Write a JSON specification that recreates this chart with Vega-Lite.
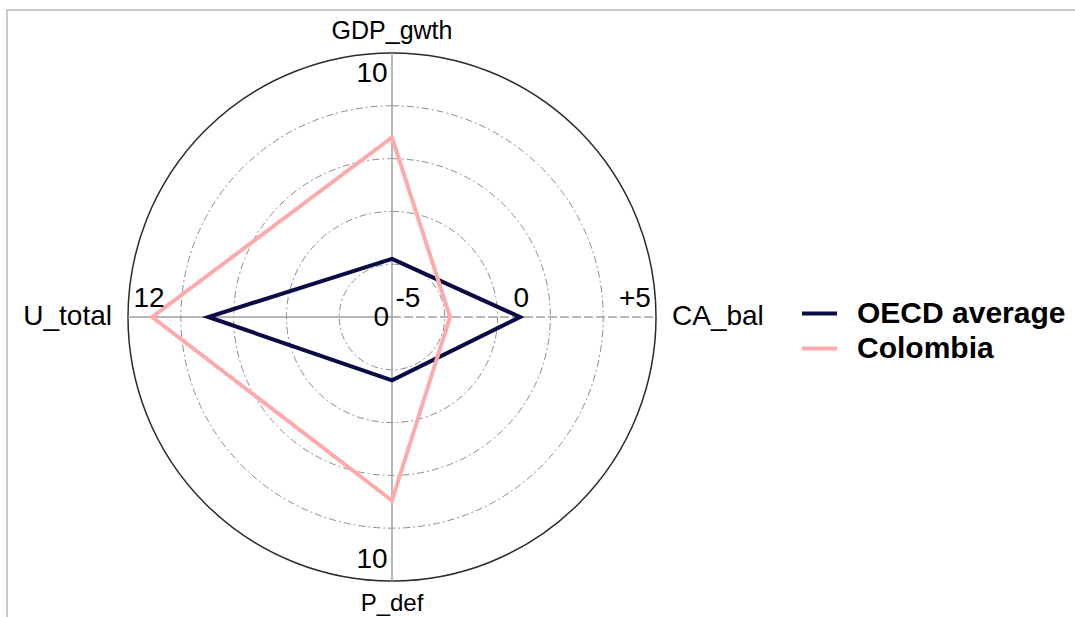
{
  "$schema": "https://vega.github.io/schema/vega-lite/v6.json",
  "width": 1078,
  "height": 617,
  "autosize": {"type": "none"},
  "padding": {"left": 7, "top": 10, "right": -10, "bottom": -10},
  "background": "white",
  "config": {
    "view": {"stroke": "#c8c8c8", "strokeWidth": 2},
    "font": "Liberation Sans",
    "text": {"font": "Liberation Sans", "color": "black"}
  },
  "datasets": {
    "values": [
      {"country": "OECD average", "indicator": "GDP_gwth", "value": 2.2},
      {"country": "OECD average", "indicator": "CA_bal", "value": -0.15},
      {"country": "OECD average", "indicator": "P_def", "value": 2.4},
      {"country": "OECD average", "indicator": "U_total", "value": 8.35},
      {"country": "Colombia", "indicator": "GDP_gwth", "value": 6.8},
      {"country": "Colombia", "indicator": "CA_bal", "value": -2.8},
      {"country": "Colombia", "indicator": "P_def", "value": 6.95},
      {"country": "Colombia", "indicator": "U_total", "value": 10.9}
    ],
    "axes": [
      {"indicator": "GDP_gwth", "idx": 0, "min": 0, "max": 10},
      {"indicator": "CA_bal", "idx": 1, "min": -5, "max": 5},
      {"indicator": "P_def", "idx": 2, "min": 0, "max": 10},
      {"indicator": "U_total", "idx": 3, "min": 0, "max": 12}
    ],
    "ticks": [
      {"indicator": "GDP_gwth", "value": 10, "label": "10"},
      {"indicator": "CA_bal", "value": -5, "label": "-5"},
      {"indicator": "CA_bal", "value": 0, "label": "0"},
      {"indicator": "CA_bal", "value": 5, "label": "+5"},
      {"indicator": "P_def", "value": 10, "label": "10"},
      {"indicator": "U_total", "value": 0, "label": "0"},
      {"indicator": "U_total", "value": 12, "label": "12"}
    ],
    "rings": [
      {"ring": 0.2}, {"ring": 0.4}, {"ring": 0.6}, {"ring": 0.8}, {"ring": 1.0}
    ]
  },
  "layer": [
    {
      "data": {"name": "rings"},
      "transform": [{"filter": "datum.ring < 1"}],
      "mark": {"type": "arc", "theta": 0, "theta2": 6.2832, "filled": false, "stroke": "#8c8c8c", "strokeWidth": 1, "strokeDash": [7, 3, 2, 3]},
      "encoding": {
        "x": {"datum": 0, "type": "quantitative", "scale": {"domain": [-1.45833, 2.625], "nice": false, "zero": false}, "axis": null},
        "y": {"datum": 0, "type": "quantitative", "scale": {"domain": [-1.17424, 1.16288], "nice": false, "zero": false}, "axis": null},
        "radius": {"field": "ring", "type": "quantitative", "stack": null, "scale": {"type": "linear", "domain": [0, 1], "range": [0, 264], "zero": true}, "legend": null}
      }
    },
    {
      "data": {"name": "rings"},
      "transform": [{"filter": "datum.ring >= 1"}],
      "mark": {"type": "arc", "theta": 0, "theta2": 6.2832, "filled": false, "stroke": "#2a2a2a", "strokeWidth": 1.5},
      "encoding": {
        "x": {"datum": 0, "type": "quantitative", "scale": {"domain": [-1.45833, 2.625], "nice": false, "zero": false}, "axis": null},
        "y": {"datum": 0, "type": "quantitative", "scale": {"domain": [-1.17424, 1.16288], "nice": false, "zero": false}, "axis": null},
        "radius": {"field": "ring", "type": "quantitative", "stack": null, "scale": {"type": "linear", "domain": [0, 1], "range": [0, 264], "zero": true}, "legend": null}
      }
    },
    {
      "data": {"name": "axes"},
      "transform": [
        {"calculate": "PI/2 - datum.idx*PI/2", "as": "angle"},
        {"calculate": "cos(datum.angle)", "as": "cx"},
        {"calculate": "sin(datum.angle)", "as": "cy"},
        {"calculate": "0", "as": "ox"},
        {"calculate": "0", "as": "oy"}
      ],
      "mark": {"type": "rule", "color": "#a0a0a0", "strokeWidth": 1.5},
      "encoding": {
        "x": {"field": "ox", "type": "quantitative", "scale": {"domain": [-1.45833, 2.625], "nice": false, "zero": false}, "axis": null},
        "y": {"field": "oy", "type": "quantitative", "scale": {"domain": [-1.17424, 1.16288], "nice": false, "zero": false}, "axis": null},
        "x2": {"field": "cx"},
        "y2": {"field": "cy"},
        "strokeDash": {"condition": {"test": "datum.indicator === 'CA_bal'", "value": [9, 3]}, "value": [1, 0]}
      }
    },
    {
      "data": {"name": "values"},
      "transform": [
        {"lookup": "indicator", "from": {"data": {"name": "axes"}, "key": "indicator", "fields": ["idx", "min", "max"]}},
        {"calculate": "(datum.value - datum.min)/(datum.max - datum.min)", "as": "frac"},
        {"calculate": "PI/2 - datum.idx*PI/2", "as": "angle"},
        {"calculate": "datum.frac*cos(datum.angle)", "as": "px"},
        {"calculate": "datum.frac*sin(datum.angle)", "as": "py"}
      ],
      "mark": {"type": "line", "interpolate": "linear-closed", "strokeWidth": 4},
      "encoding": {
        "x": {"field": "px", "type": "quantitative", "scale": {"domain": [-1.45833, 2.625], "nice": false, "zero": false}, "axis": null},
        "y": {"field": "py", "type": "quantitative", "scale": {"domain": [-1.17424, 1.16288], "nice": false, "zero": false}, "axis": null},
        "order": {"field": "idx", "type": "quantitative"},
        "color": {
          "field": "country",
          "type": "nominal",
          "scale": {"domain": ["OECD average", "Colombia"], "range": ["#0a0a44", "#ffaaaa"]},
          "legend": {
            "title": null,
            "orient": "none",
            "legendX": 793,
            "legendY": 284,
            "symbolType": "stroke",
            "symbolSize": 1225,
            "symbolStrokeWidth": 4,
            "labelFontSize": 30,
            "labelFontWeight": "bold",
            "labelFont": "Liberation Sans",
            "labelColor": "black",
            "labelOffset": 18,
            "labelLimit": 400,
            "rowPadding": -2
          }
        }
      }
    },
    {
      "data": {"name": "axes"},
      "transform": [{"filter": "datum.indicator === 'GDP_gwth'"}],
      "mark": {"type": "text", "align": "center", "baseline": "alphabetic", "dy": -14, "fontSize": 25},
      "encoding": {
        "x": {"datum": 0, "type": "quantitative"},
        "y": {"datum": 1, "type": "quantitative"},
        "text": {"field": "indicator"}
      }
    },
    {
      "data": {"name": "axes"},
      "transform": [{"filter": "datum.indicator === 'P_def'"}],
      "mark": {"type": "text", "align": "center", "baseline": "alphabetic", "dy": 30, "fontSize": 24},
      "encoding": {
        "x": {"datum": 0, "type": "quantitative"},
        "y": {"datum": -1, "type": "quantitative"},
        "text": {"field": "indicator"}
      }
    },
    {
      "data": {"name": "axes"},
      "transform": [{"filter": "datum.indicator === 'U_total'"}],
      "mark": {"type": "text", "align": "right", "baseline": "middle", "dx": -16, "fontSize": 28},
      "encoding": {
        "x": {"datum": -1, "type": "quantitative"},
        "y": {"datum": 0, "type": "quantitative"},
        "text": {"field": "indicator"}
      }
    },
    {
      "data": {"name": "axes"},
      "transform": [{"filter": "datum.indicator === 'CA_bal'"}],
      "mark": {"type": "text", "align": "left", "baseline": "middle", "dx": 16, "fontSize": 28},
      "encoding": {
        "x": {"datum": 1, "type": "quantitative"},
        "y": {"datum": 0, "type": "quantitative"},
        "text": {"field": "indicator"}
      }
    },
    {
      "data": {"name": "ticks"},
      "transform": [
        {"filter": "datum.indicator === 'GDP_gwth' || datum.indicator === 'P_def'"},
        {"lookup": "indicator", "from": {"data": {"name": "axes"}, "key": "indicator", "fields": ["idx", "min", "max"]}},
        {"calculate": "0.06 + 0.86*(datum.value - datum.min)/(datum.max - datum.min)", "as": "lf"},
        {"calculate": "PI/2 - datum.idx*PI/2", "as": "angle"},
        {"calculate": "datum.lf*cos(datum.angle)", "as": "tx"},
        {"calculate": "datum.lf*sin(datum.angle)", "as": "ty"}
      ],
      "mark": {"type": "text", "align": "center", "baseline": "middle", "dx": -20, "fontSize": 28},
      "encoding": {
        "x": {"field": "tx", "type": "quantitative"},
        "y": {"field": "ty", "type": "quantitative"},
        "text": {"field": "label"}
      }
    },
    {
      "data": {"name": "ticks"},
      "transform": [
        {"filter": "datum.indicator === 'CA_bal' || (datum.indicator === 'U_total' && datum.value !== 0)"},
        {"lookup": "indicator", "from": {"data": {"name": "axes"}, "key": "indicator", "fields": ["idx", "min", "max"]}},
        {"calculate": "0.06 + 0.86*(datum.value - datum.min)/(datum.max - datum.min)", "as": "lf"},
        {"calculate": "PI/2 - datum.idx*PI/2", "as": "angle"},
        {"calculate": "datum.lf*cos(datum.angle)", "as": "tx"},
        {"calculate": "datum.lf*sin(datum.angle)", "as": "ty"}
      ],
      "mark": {"type": "text", "align": "center", "baseline": "middle", "dy": -18, "fontSize": 28},
      "encoding": {
        "x": {"field": "tx", "type": "quantitative"},
        "y": {"field": "ty", "type": "quantitative"},
        "text": {"field": "label"}
      }
    },
    {
      "data": {"name": "ticks"},
      "transform": [
        {"filter": "datum.indicator === 'U_total' && datum.value === 0"},
        {"lookup": "indicator", "from": {"data": {"name": "axes"}, "key": "indicator", "fields": ["idx", "min", "max"]}},
        {"calculate": "0.06 + 0.86*(datum.value - datum.min)/(datum.max - datum.min)", "as": "lf"},
        {"calculate": "PI/2 - datum.idx*PI/2", "as": "angle"},
        {"calculate": "datum.lf*cos(datum.angle)", "as": "tx"},
        {"calculate": "datum.lf*sin(datum.angle)", "as": "ty"}
      ],
      "mark": {"type": "text", "align": "center", "baseline": "middle", "dx": 5, "dy": 1, "fontSize": 28},
      "encoding": {
        "x": {"field": "tx", "type": "quantitative"},
        "y": {"field": "ty", "type": "quantitative"},
        "text": {"field": "label"}
      }
    }
  ]
}
